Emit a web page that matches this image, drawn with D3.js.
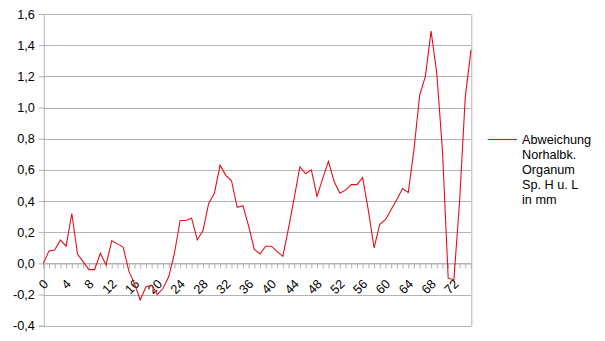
<!DOCTYPE html>
<html>
<head>
<meta charset="utf-8">
<script src="https://cdn.jsdelivr.net/npm/d3@7"></script>
<style>
  body { margin: 0; background: #fff; }
  svg { display: block; font-family: "Liberation Sans", Arial, sans-serif; }
</style>
</head>
<body>
<div id="chart"></div>
<script>
// categories (measurement index)
const categories = [
  0, 1, 2, 3, 4, 5, 6, 7, 8, 9, 10, 11, 12, 13, 14, 15, 16, 17, 18, 19,
  20, 21, 22, 23, 24, 25, 26, 27, 28, 29, 30, 31, 32, 33, 34, 35, 36, 37, 38, 39,
  40, 41, 42, 43, 44, 45, 46, 47, 48, 49, 50, 51, 52, 53, 54, 55, 56, 57, 58, 59,
  60, 61, 62, 63, 64, 65, 66, 67, 68, 69, 70, 71, 72, 73, 74, 75
];

// Abweichung Norhalbk. Organum Sp. H u. L in mm
const abweichung = [
  0.00, 0.08, 0.085, 0.15, 0.11, 0.32, 0.06, 0.01, -0.04, -0.04,
  0.065, -0.01, 0.145, 0.125, 0.105, -0.05, -0.13, -0.235, -0.15, -0.14,
  -0.20, -0.16, -0.085, 0.065, 0.275, 0.275, 0.29, 0.15, 0.21, 0.385,
  0.45, 0.63, 0.565, 0.53, 0.36, 0.37, 0.24, 0.09, 0.06, 0.11,
  0.11, 0.075, 0.045, 0.225, 0.42, 0.62, 0.575, 0.60, 0.43, 0.545,
  0.655, 0.525, 0.45, 0.47, 0.505, 0.505, 0.55, 0.34, 0.10, 0.25,
  0.28, 0.345, 0.41, 0.48, 0.455, 0.73, 1.08, 1.20, 1.49, 1.22,
  0.72, -0.095, -0.105, 0.40, 1.07, 1.37
];

const xTickLabels = [0, 4, 8, 12, 16, 20, 24, 28, 32, 36, 40, 44, 48, 52, 56, 60, 64, 68, 72];
const yTicks = [-0.4, -0.2, 0, 0.2, 0.4, 0.6, 0.8, 1.0, 1.2, 1.4, 1.6];
const legendLines = ["Abweichung", "Norhalbk.", "Organum", "Sp. H u. L", "in mm"];

const W = 605, H = 341;
const margin = { top: 14, right: 134, bottom: 15.3, left: 43.3 };
const width = W - margin.left - margin.right;
const height = H - margin.top - margin.bottom;
const gridColor = "#b3b3b3";
const lineColor = "#e3101c";
const fontSize = "12.7px";

const svg = d3.select("#chart").append("svg")
  .attr("width", W)
  .attr("height", H);

const g = svg.append("g")
  .attr("transform", `translate(${margin.left},${margin.top})`);

const x = d3.scalePoint()
  .domain(categories)
  .range([0, width]);

const y = d3.scaleLinear()
  .domain([-0.4, 1.6])
  .range([height, 0]);

const fmt = d => d3.format(".1f")(d).replace(".", ",").replace("−", "-");

// horizontal grid
g.append("g")
  .selectAll("line")
  .data(yTicks)
  .join("line")
  .attr("x1", 0)
  .attr("x2", width)
  .attr("y1", d => Math.round(y(d)) + 0.5)
  .attr("y2", d => Math.round(y(d)) + 0.5)
  .attr("stroke", gridColor);

// right border
g.append("line")
  .attr("x1", Math.round(width) + 0.5)
  .attr("x2", Math.round(width) + 0.5)
  .attr("y1", Math.round(y(1.6)) + 0.5)
  .attr("y2", Math.round(y(-0.4)) + 0.5)
  .attr("stroke", gridColor);

// y axis
const yAxis = g.append("g")
  .attr("transform", "translate(0.5,0)")
  .call(d3.axisLeft(y).tickValues(yTicks).tickFormat(fmt).tickSizeOuter(0).tickSize(5).tickPadding(4));
yAxis.select(".domain").attr("stroke", gridColor);
yAxis.selectAll(".tick line").attr("stroke", gridColor);
yAxis.selectAll("text")
  .attr("fill", "#000")
  .style("font-size", fontSize)
  .style("font-family", "Liberation Sans, Arial, sans-serif");

// x axis at zero
const xAxis = g.append("g")
  .attr("transform", `translate(0,${Math.round(y(0)) + 0.5})`)
  .call(d3.axisBottom(x).tickValues(categories).tickSizeOuter(0).tickSize(5)
    .tickFormat(d => xTickLabels.includes(d) ? d : ""));
xAxis.select(".domain").attr("stroke", gridColor);
xAxis.selectAll(".tick line").attr("stroke", gridColor);
xAxis.selectAll("text")
  .attr("fill", "#000")
  .style("font-size", fontSize)
  .style("font-family", "Liberation Sans, Arial, sans-serif")
  .attr("text-anchor", "end")
  .attr("y", 0)
  .attr("dy", "0.35em")
  .attr("transform", "translate(2,18) rotate(-45)");

// series line
const line = d3.line()
  .x((d, i) => x(categories[i]))
  .y(d => y(d));

g.append("path")
  .datum(abweichung)
  .attr("fill", "none")
  .attr("stroke", lineColor)
  .attr("stroke-width", 1.1)
  .attr("stroke-linejoin", "miter")
  .attr("d", line);

// legend
const legend = svg.append("g")
  .attr("transform", "translate(488,139.5)");

legend.append("line")
  .attr("x1", 0)
  .attr("x2", 29)
  .attr("stroke", lineColor)
  .attr("stroke-width", 1.1);

legend.append("text")
  .attr("x", 34)
  .attr("y", 4)
  .style("font-size", fontSize)
  .selectAll("tspan")
  .data(legendLines)
  .join("tspan")
  .attr("x", 34)
  .attr("dy", (d, i) => i === 0 ? 0 : 15)
  .text(d => d);
</script>
</body>
</html>
